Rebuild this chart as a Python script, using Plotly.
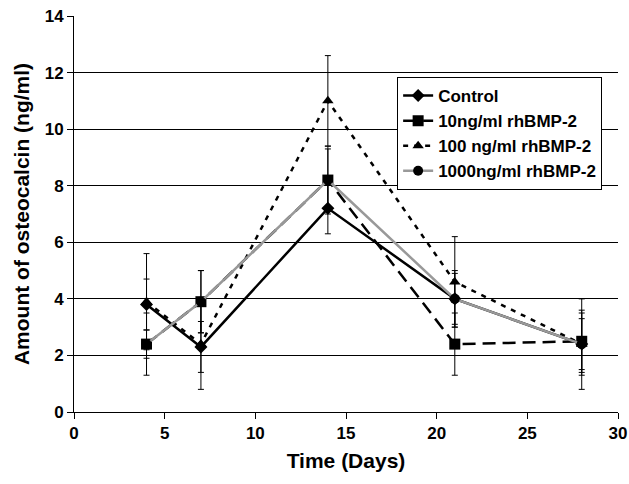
import plotly.graph_objects as go

days = [4, 7, 14, 21, 28]
series_names = ["Control", "10ng/ml rhBMP-2", "100 ng/ml rhBMP-2", "1000ng/ml rhBMP-2"]
control = [3.8, 2.3, 7.2, 4.0, 2.4]
control_err = [0.9, 0.9, 0.9, 1.0, 0.9]
bmp10 = [2.4, 3.9, 8.2, 2.4, 2.5]
bmp10_err = [1.1, 1.1, 1.1, 1.1, 1.1]
bmp100 = [3.9, 2.4, 11.0, 4.6, 2.4]
bmp100_err = [1.7, 1.6, 1.6, 1.6, 1.6]
bmp1000 = [2.4, 3.9, 8.2, 4.0, 2.4]
bmp1000_err = [0.5, 1.1, 1.2, 0.9, 1.1]
y_ticks = [0, 2, 4, 6, 8, 10, 12, 14]
x_ticks = [0, 5, 10, 15, 20, 25, 30]

FONT = "Liberation Sans, Arial, sans-serif"

styles = [
    dict(color="black", dash="solid", symbol="diamond", size=10),
    dict(color="black", dash="13px,7px", symbol="square", size=11),
    dict(color="black", dash="5px,6px", symbol="triangle-up", size=10),
    dict(color="#999999", dash="solid", symbol="circle", size=10),
]
data = [(control, control_err), (bmp10, bmp10_err), (bmp100, bmp100_err), (bmp1000, bmp1000_err)]

fig = go.Figure()
for name, (vals, errs), st in zip(series_names, data, styles):
    fig.add_trace(go.Scatter(
        x=days, y=vals, name=name, mode="lines+markers",
        line=dict(color=st["color"], width=2.5, dash=st["dash"]),
        marker=dict(symbol=st["symbol"], size=st["size"], color="black"),
        error_y=dict(type="data", array=errs, visible=True, color="black", thickness=1, width=3),
    ))

fig.update_layout(
    width=629, height=484,
    margin=dict(l=74, r=11, t=16, b=72),
    paper_bgcolor="white", plot_bgcolor="white",
    font=dict(family=FONT, color="black", size=14, weight=700),
    showlegend=True,
    legend=dict(
        x=0.594, y=0.846, xanchor="left", yanchor="top",
        bgcolor="white", bordercolor="black", borderwidth=1,
        font=dict(size=17, family=FONT, color="black", weight=700),
        tracegroupgap=0, itemwidth=30,
    ),
    xaxis=dict(
        range=[0, 30], tickvals=x_ticks,
        ticks="outside", ticklen=6, tickcolor="black", automargin=False,
        showline=True, linecolor="black", linewidth=1, showgrid=False, zeroline=False,
        tickfont=dict(size=17, family=FONT, weight=700),
        title=dict(text="Time (Days)", font=dict(size=21, family=FONT, weight=700), standoff=10),
    ),
    yaxis=dict(
        range=[0, 14], tickvals=y_ticks,
        ticks="outside", ticklen=6, tickcolor="black", automargin=False,
        showline=True, linecolor="black", linewidth=1,
        showgrid=True, gridcolor="black", gridwidth=1, zeroline=False,
        tickfont=dict(size=17, family=FONT, weight=700),
        title=dict(text="Amount of osteocalcin (ng/ml)", font=dict(size=21, family=FONT, weight=700), standoff=9),
    ),
)
fig.write_html("out.html", config={"displayModeBar": False},
               post_script="document.body.style.margin='0';document.body.style.padding='0';")
